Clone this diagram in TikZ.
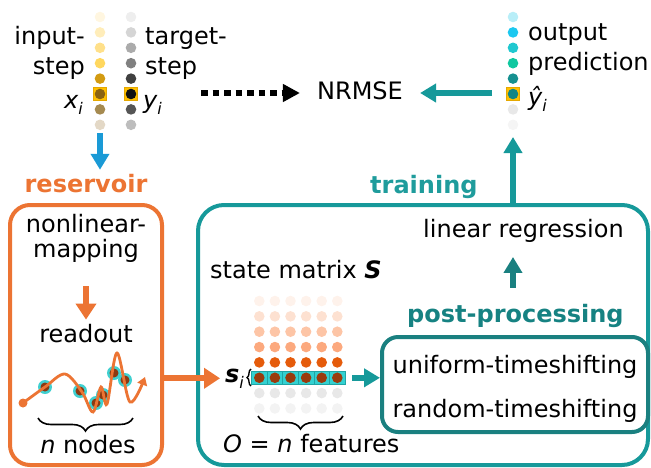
\documentclass[tikz,border=0pt]{standalone}
\usepackage{fontspec}
\setmainfont{DejaVu Sans}[BoldFont={DejaVu Sans Bold},ItalicFont={DejaVu Sans Oblique},BoldItalicFont={DejaVu Sans Bold Oblique}]
\usetikzlibrary{arrows.meta,decorations.pathreplacing,calc}
\definecolor{resorange}{HTML}{EC7433}
\definecolor{tealA}{HTML}{16999A}
\definecolor{tealB}{HTML}{1A8080}
\definecolor{tealtxt}{HTML}{1F9C9C}
\definecolor{tealpost}{HTML}{168282}
\definecolor{blueA}{HTML}{1A9AD6}
\definecolor{goldsq}{HTML}{FFC000}
\definecolor{goldsqd}{HTML}{E5A800}
\definecolor{cyanring}{HTML}{40D0D0}
\definecolor{brownnode}{HTML}{8B3A12}
\definecolor{cellcyan}{HTML}{33D1D1}
\definecolor{celledge}{HTML}{1FA5A5}
\newcommand\lowsub[1]{\raisebox{-0.25em}{\fontsize{16}{16}\selectfont #1}}
\begin{document}
\begin{tikzpicture}[x=1pt,y=-1pt,
  every node/.style={inner sep=0pt, font=\fontsize{24}{28}\selectfont},
  bluearrow/.style={draw=blueA, line width=6pt, -{Triangle[width=18pt,length=16pt]}},
  orangearrow/.style={draw=resorange, line width=6pt, -{Triangle[width=20pt,length=16pt]}},
  tealarrow/.style={line width=5.5pt, -{Triangle[width=18pt,length=16pt]}},
  dotarrow/.style={draw=black, line width=6pt, dash pattern=on 6.5pt off 5pt, -{Triangle[width=17pt,length=17pt]}},
  goldbox/.style={fill=goldsq, draw=goldsqd, line width=0.8pt},
  bracestyle/.style={decorate, line width=1.6pt}]
\useasboundingbox (0,0) rectangle (651,467);

% ---------- top columns ----------
\filldraw[goldbox] (93.5,87.5) rectangle (106.5,100.5);
\filldraw[goldbox] (124.5,87.5) rectangle (137.5,100.5);
\filldraw[goldbox] (506.5,87.5) rectangle (519.5,100.5);
\foreach \c [count=\k from 0] in {FFF6E0,FFEDBA,FFE08A,FFD75E,D39B12,8A6210,A58A50,E3D8C6} {
  \definecolor{tmpc}{HTML}{\c}
  \fill[tmpc] (100,{17+15.4*\k}) circle[radius=5.3pt];
}
\foreach \c [count=\k from 0] in {EEEEEE,D5D5D5,ABABAB,808080,404040,111111,555555,BDBDBD} {
  \definecolor{tmpc}{HTML}{\c}
  \fill[tmpc] (131,{17+15.4*\k}) circle[radius=5.3pt];
}
\foreach \c [count=\k from 0] in {B8EEF8,1CC8F0,20C8D0,10C8A0,159090,108585,E8E8E8,F5F5F5} {
  \definecolor{tmpc}{HTML}{\c}
  \fill[tmpc] (513,{17+15.4*\k}) circle[radius=5.3pt];
}

\node[anchor=base east] (inp1) at (85,44.5) {input-};
\node[anchor=base east] (inp2) at (85,74) {step};
\node[anchor=base east] (xi) at (83,108) {\itshape x\lowsub{i}};
\node[anchor=base west] (tg1) at (145,44.5) {target-};
\node[anchor=base west] (tg2) at (145,74) {step};
\node[anchor=base west] (yi) at (143,108) {\itshape y\lowsub{i}};
\node[anchor=base west] (out1) at (528,40) {output};
\node[anchor=base west] (out2) at (528,70) {prediction};
\node[anchor=base west] (yhat) at (528,105) {\itshape ŷ\lowsub{i}};
\node[anchor=base, inner xsep=17pt] (nrmse) at (360,99) {NRMSE};

\coordinate (dotS) at (201,93);
\draw[dotarrow] (dotS) -- (dotS -| nrmse.west);
\coordinate (tealS) at (492,93);
\draw[tealarrow, draw=tealA] (tealS) -- (tealS -| nrmse.east);

% ---------- reservoir ----------
\node[anchor=base, outer sep=4pt, text=resorange] (restitle) at (86,192) {\bfseries reservoir};
\coordinate (blueS) at (100,133);
\draw[bluearrow] (blueS) -- (blueS |- restitle.north);

\node[draw=resorange, line width=4pt, rounded corners=20pt, minimum width=152pt, minimum height=260pt] (resbox) at (86,335) {};
\node[anchor=base] (nonlin) at (86,232) {nonlinear-};
\node[anchor=base] (mapping) at (86,257) {mapping};
\node[anchor=base] (readout) at (86,342) {readout};
\draw[orangearrow] ($(mapping.south)+(0,24)$) -- ($(readout.north)+(0,-4)$);

\foreach \p in {(45,387),(80,391),(96,403),(103,395),(114,373),(125,380)} {
  \fill[cyanring] \p circle[radius=7pt];
  \fill[brownnode] \p circle[radius=4.5pt];
}
\fill[resorange] (23,403) circle[radius=4.5pt];
\draw[resorange, line width=2.8pt, -{Triangle[width=10pt,length=8pt]}] plot[smooth, tension=0.55] coordinates {(23,403) (45,387) (65,374) (82,392) (93,412) (101,387) (107,404) (117,353) (130,402) (145,377)};
\draw[bracestyle, decoration={brace, amplitude=13pt}] (133,418) -- (38,418);
\node[anchor=base] (nnodes) at (88,453) {\itshape n\upshape{} nodes};

% ---------- training ----------
\node[draw=tealA, line width=4pt, rounded corners=26pt, minimum width=450pt, minimum height=260pt] (tealbox) at (423,335) {};
\node[anchor=base west, text=tealtxt] (train) at (370,193) {\bfseries training};
\coordinate (trainTip) at (513,137);
\draw[tealarrow, draw=tealA] (trainTip |- tealbox.north) -- (trainTip);

\node[anchor=base west, outer ysep=15pt] (linreg) at (423,237) {linear regression};
\node[anchor=base west, outer ysep=16pt, text=tealpost] (postlbl) at (407,322) {\bfseries post-processing};
\draw[tealarrow, draw=tealB] (postlbl.north -| trainTip) -- (linreg.south -| trainTip);

\node[draw=tealB, line width=4pt, rounded corners=16pt, minimum width=266pt, minimum height=95pt] (postbox) at (515,384.5) {};
\node[anchor=base] (uni) at (515,373) {uniform-timeshifting};
\node[anchor=base] (rnd) at (515,417) {random-timeshifting};

\node[anchor=base west] (smat) at (210,278) {state matrix \textbf{\textit{S}}};

% state matrix dots
\foreach \c [count=\k from 0] in {FEF2EB,FDE1D1,FDC5A6,FCA97E,E55B0B,9A3B0D,E8E8E8,F3F3F3} {
  \definecolor{tmpc}{HTML}{\c}
  \foreach \j in {0,...,5} {
    \ifnum\k=5
      \filldraw[fill=cellcyan, draw=celledge, line width=0.8pt] ({251.5+15.6*\j},371.3) rectangle ++(15.6,13);
    \fi
    \fill[tmpc] ({259.3+15.6*\j},{301+15.35*\k}) circle[radius=5.3pt];
  }
}
\node[minimum width=93.6pt, minimum height=13pt, outer xsep=7pt] (hlrow) at (298.3,377.8) {};
\node[anchor=base west, outer xsep=5pt] (si) at (220,382) {\textbf{\textit{s}}\textit{\lowsub{i}}};
\draw[bracestyle, line width=1.4pt, decoration={brace, amplitude=4pt}] (251,386) -- (251,369);
\draw[orangearrow] (resbox.east |- si.west) -- (si.west);
\draw[tealarrow, draw=tealA] (hlrow.east) -- (hlrow.east -| postbox.west);
\draw[bracestyle, decoration={brace, amplitude=13pt}] (343,416) -- (258,416);
\node[anchor=base west] (ofeat) at (223,452) {\itshape O\upshape{} = \itshape n\upshape{} features};
\end{tikzpicture}
\end{document}
